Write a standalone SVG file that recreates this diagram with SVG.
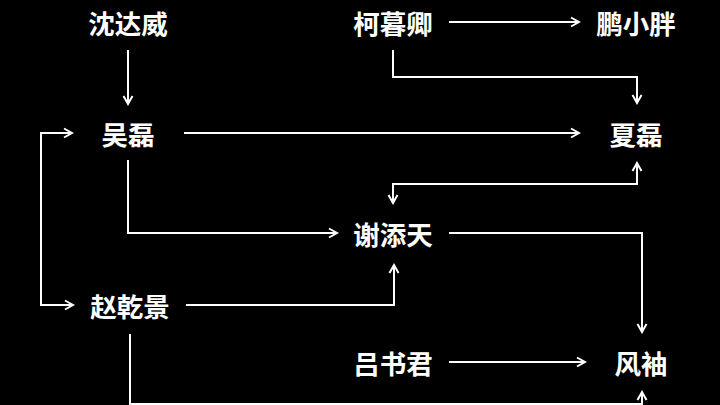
<svg xmlns="http://www.w3.org/2000/svg" width="720" height="405" viewBox="0 0 720 405">
  <style>
    .bg { fill: #000000; }
    .label { font-family: "Noto Sans CJK SC", "Noto Sans", sans-serif; font-size: 26.5px; font-weight: bold; fill: #ffffff; text-anchor: middle; dominant-baseline: central; }
    .edge { fill: none; stroke: #ffffff; stroke-width: 2; }
  </style>
  <defs>
    <marker id="arrow" markerUnits="userSpaceOnUse" viewBox="0 0 12 12" refX="10" refY="6" markerWidth="12" markerHeight="12" orient="auto-start-reverse">
      <path d="M2,1.5 L10,6 L2,10.5" fill="none" stroke="#ffffff" stroke-width="2"/>
    </marker>
  </defs>
  <rect class="bg" x="0" y="0" width="720" height="405"/>

  <g id="connectors">
    <path class="edge" d="M128,50 L128,104" marker-end="url(#arrow)"/>
    <path class="edge" d="M449,22 L579,22" marker-end="url(#arrow)"/>
    <path class="edge" d="M393,50 L393,77 L637,77 L637,103" marker-end="url(#arrow)"/>
    <path class="edge" d="M184,133 L579,133" marker-end="url(#arrow)"/>
    <path class="edge" d="M637,163 L637,184 L393,184 L393,203" marker-start="url(#arrow)" marker-end="url(#arrow)"/>
    <path class="edge" d="M128,160 L128,233 L337,233" marker-end="url(#arrow)"/>
    <path class="edge" d="M449,233 L642,233 L642,332" marker-end="url(#arrow)"/>
    <path class="edge" d="M186,305 L394,305 L394,265" marker-end="url(#arrow)"/>
    <path class="edge" d="M72,133 L41,133 L41,305 L73,305" marker-start="url(#arrow)" marker-end="url(#arrow)"/>
    <path class="edge" d="M449,362 L585,362" marker-end="url(#arrow)"/>
    <path class="edge" d="M130,334 L130,404 L642,404 L642,392" marker-end="url(#arrow)"/>
  </g>

  <g id="node-shendawei"><text class="label" x="128" y="22">沈达威</text></g>
  <g id="node-kemuqing"><text class="label" x="393" y="22">柯暮卿</text></g>
  <g id="node-pengxiaopang"><text class="label" x="636" y="22">鹏小胖</text></g>
  <g id="node-wulei"><text class="label" x="128" y="133">吴磊</text></g>
  <g id="node-xialei"><text class="label" x="636" y="133">夏磊</text></g>
  <g id="node-xietiantian"><text class="label" x="393" y="233">谢添天</text></g>
  <g id="node-zhaoqianjing"><text class="label" x="130" y="305">赵乾景</text></g>
  <g id="node-lvshujun"><text class="label" x="393" y="362">吕书君</text></g>
  <g id="node-fengxiu"><text class="label" x="641" y="362">风袖</text></g>
</svg>
